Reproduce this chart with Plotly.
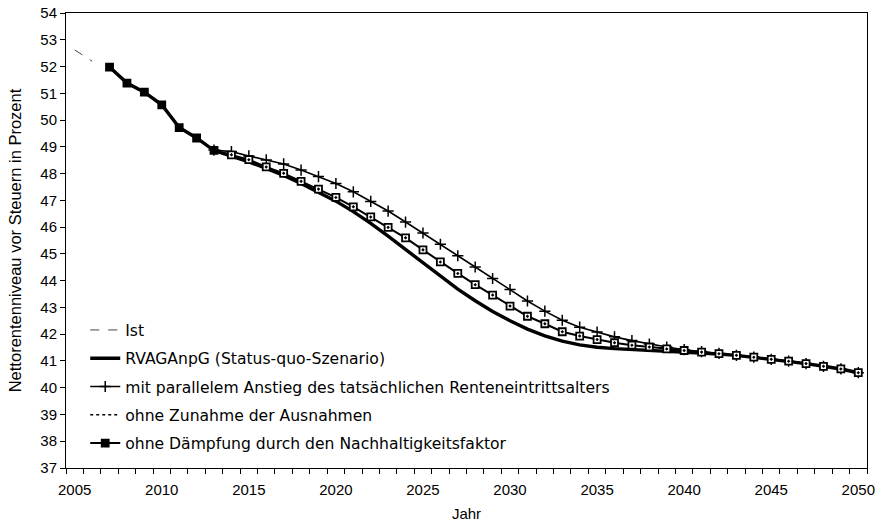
import plotly.graph_objects as go

# ---- data ----
ist_years = [2005, 2006]
ist_values = [52.62, 52.20]

hist_years = [2007, 2008, 2009, 2010, 2011, 2012]
hist_values = [51.98, 51.38, 51.04, 50.57, 49.72, 49.33]

proj_years = list(range(2013, 2051))
status_quo = [48.86, 48.65, 48.44, 48.19, 47.93, 47.63, 47.30, 46.97,
              46.58, 46.14, 45.66, 45.16, 44.65,
              44.16, 43.68, 43.25, 42.85, 42.50,
              42.19, 41.94, 41.74, 41.60, 41.51,
              41.46, 41.43, 41.40, 41.37, 41.34,
              41.31, 41.26, 41.21, 41.14, 41.06,
              40.99, 40.90, 40.80, 40.70, 40.56]
parallel = [48.88, 48.82, 48.66, 48.51, 48.36, 48.13, 47.89, 47.63,
            47.32, 46.96, 46.60, 46.19, 45.78,
            45.36, 44.93, 44.51, 44.08, 43.67,
            43.24, 42.86, 42.52, 42.26, 42.08,
            41.90, 41.76, 41.63, 41.52, 41.42,
            41.35, 41.28, 41.21, 41.14, 41.06,
            40.99, 40.90, 40.80, 40.70, 40.56]
ohne_zunahme = list(status_quo)  # not distinguishable from the status-quo line
daempfung = [48.87, 48.70, 48.52, 48.25, 48.01, 47.71, 47.42, 47.11,
             46.76, 46.38, 45.99, 45.60, 45.15,
             44.70, 44.27, 43.85, 43.46, 43.05,
             42.67, 42.39, 42.09, 41.93, 41.80,
             41.68, 41.59, 41.52, 41.45, 41.39,
             41.33, 41.27, 41.21, 41.14, 41.06,
             40.99, 40.90, 40.80, 40.70, 40.56]

names = ["Ist",
         "RVAGAnpG (Status-quo-Szenario)",
         "mit parallelem Anstieg des tatsächlichen Renteneintrittsalters",
         "ohne Zunahme der Ausnahmen",
         "ohne Dämpfung durch den Nachhaltigkeitsfaktor"]

x_ticks = list(range(2005, 2051, 5))
y_ticks = list(range(37, 55))

FONT = "Liberation Sans, Arial, sans-serif"
LEG_FONT = "DejaVu Sans, Liberation Sans, sans-serif"

fig = go.Figure()

sq_years = hist_years + proj_years
sq_vals = hist_values + daempfung
sq_fill = ["black" if y <= 2013 else "white" for y in sq_years]

fig.add_trace(go.Scatter(
    x=proj_years, y=ohne_zunahme, name=names[3], mode="lines",
    line=dict(color="black", width=1.5, dash="dot"),
    legendgroup="g4", legendrank=4))
fig.add_trace(go.Scatter(
    x=ist_years, y=ist_values, name=names[0], mode="lines",
    line=dict(color="#444444", width=1, dash="dash"),
    legendgroup="g1", legendrank=1))
fig.add_trace(go.Scatter(
    x=hist_years + proj_years, y=hist_values + status_quo, name=names[1],
    mode="lines", line=dict(color="black", width=3.4),
    legendgroup="g2", legendrank=2))
fig.add_trace(go.Scatter(
    x=proj_years, y=parallel, name=names[2], mode="lines+markers",
    line=dict(color="black", width=1.6),
    marker=dict(symbol="cross-thin", size=8, line=dict(color="black", width=1.5)),
    legendgroup="g3", legendrank=3))
fig.add_trace(go.Scatter(
    x=sq_years, y=sq_vals, name=names[4], mode="lines+markers",
    line=dict(color="black", width=2),
    marker=dict(symbol="square-dot", size=7, color=sq_fill,
                line=dict(color="black", width=1.8)),
    legendgroup="g5", legendrank=5))

fig.update_layout(
    width=884, height=522,
    margin=dict(l=66, r=17, t=13, b=54, autoexpand=False),
    paper_bgcolor="white", plot_bgcolor="white",
    font=dict(family=FONT, size=14, color="black"),
    showlegend=True,
    legend=dict(x=0.024, y=0.34, xanchor="left", yanchor="top",
                bgcolor="rgba(0,0,0,0)", traceorder="grouped",
                tracegroupgap=5, font=dict(family=LEG_FONT, size=15.6, color="black")),
    xaxis=dict(range=[2004.5, 2050.5], tickvals=x_ticks,
               ticktext=[str(v) for v in x_ticks], ticks="",
               showgrid=False, zeroline=False, showline=True,
               linecolor="black", linewidth=1, mirror=True,
               tickfont=dict(size=15), automargin=False, ticklabelstandoff=8,
               minor=dict(ticks="outside", tick0=2004.5, dtick=1, ticklen=5,
                          tickcolor="black", tickwidth=1, showgrid=False),
               title=dict(text="Jahr", font=dict(size=15), standoff=14)),
    yaxis=dict(range=[37, 54], tickvals=y_ticks, ticks="outside", ticklen=5,
               tickcolor="black", showgrid=False, zeroline=False,
               showline=True, linecolor="black", linewidth=1, mirror=True,
               tickfont=dict(size=15), automargin=False,
               title=dict(text="Nettorentenniveau vor Steuern in Prozent",
                          font=dict(size=16.5), standoff=14)),
)

fig.write_html("out.html", config={"displayModeBar": False},
               post_script="document.body.style.margin='0';")
